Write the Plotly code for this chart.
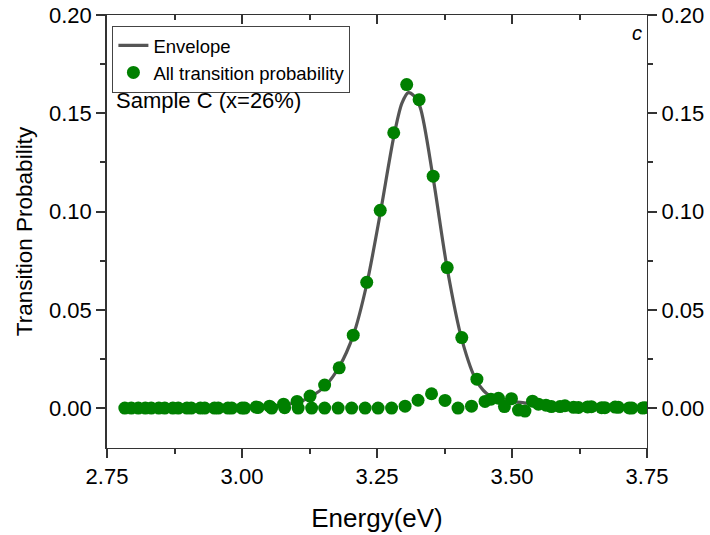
import plotly.graph_objects as go

# ---- data ----
# main transition series (forms the peak)
main_energy = [2.795, 2.821, 2.846, 2.872, 2.898, 2.923, 2.949, 2.974, 3.000, 3.026,
               3.051, 3.077, 3.102, 3.126, 3.153, 3.180, 3.206, 3.231, 3.256, 3.281,
               3.305, 3.328, 3.354, 3.380, 3.407, 3.435, 3.461, 3.486, 3.512, 3.538,
               3.563, 3.589, 3.614, 3.640, 3.666, 3.691, 3.717, 3.742]
main_prob = [0, 0, 0, 0, 0, 0, 0, 0, 0, 0.0005,
             0.001, 0.002, 0.0034, 0.0061, 0.0117, 0.0205, 0.0371, 0.064, 0.1006, 0.1401,
             0.1646, 0.1569, 0.118, 0.0715, 0.0359, 0.0147, 0.0045, 0.0008, -0.001, 0.0035,
             0.0015, 0.0008, 0.0004, 0.0006, 0.0002, 0.0005, 0.0001, 0]

# secondary transition series (near the baseline)
minor_energy = [2.783, 2.808, 2.832, 2.857, 2.882, 2.906, 2.931, 2.956, 2.981, 3.005,
                3.030, 3.055, 3.079, 3.104, 3.129, 3.153, 3.178, 3.203, 3.228, 3.252,
                3.277, 3.302, 3.326, 3.351, 3.376, 3.400, 3.425, 3.450, 3.475, 3.499,
                3.524, 3.549, 3.573, 3.598, 3.623, 3.647, 3.672, 3.697, 3.722, 3.746]
minor_prob = [0, 0, 0, 0, 0, 0, 0, 0, 0, 0,
              0.0003, 0, 0.0002, 0, 0, 0, 0, 0, 0, 0,
              0, 0.001, 0.004, 0.0073, 0.0039, 0, 0.001, 0.0034, 0.005, 0.0048,
              -0.0015, 0.002, 0.0008, 0.0012, 0.0003, 0.0007, 0.0002, 0.0004, 0, 0.0002]

# envelope curve points
env_energy = [2.78, 2.95, 3.02, 3.06, 3.09, 3.11, 3.13, 3.155, 3.18, 3.206, 3.231, 3.256,
              3.281, 3.296, 3.308, 3.318, 3.330, 3.354, 3.380, 3.407, 3.435, 3.46, 3.49,
              3.52, 3.56, 3.62, 3.75]
env_prob = [0, 0, 0.0005, 0.0012, 0.0022, 0.0035, 0.0062, 0.0115, 0.021, 0.037, 0.063, 0.099,
            0.138, 0.155, 0.1605, 0.159, 0.153, 0.117, 0.071, 0.035, 0.0135, 0.006, 0.0035,
            0.0028, 0.0015, 0.0005, 0]

# axes / tick labels
x_range = [2.75, 3.75]
y_range = [-0.0203, 0.2]
x_tickvals = [2.75, 3.00, 3.25, 3.50, 3.75]
x_ticktext = ["2.75", "3.00", "3.25", "3.50", "3.75"]
y_tickvals = [0.00, 0.05, 0.10, 0.15, 0.20]
y_ticktext = ["0.00", "0.05", "0.10", "0.15", "0.20"]

FONT = "Liberation Sans, Arial, sans-serif"
AXC = "#333333"

fig = go.Figure()
fig.add_trace(go.Scatter(
    x=env_energy, y=env_prob, mode="lines", name="Envelope",
    xaxis="x", yaxis="y",
    line=dict(color="#555555", width=3.2, shape="spline", smoothing=0.8),
))
fig.add_trace(go.Scatter(
    x=minor_energy + main_energy, y=minor_prob + main_prob, mode="markers",
    name="All transition probability", xaxis="x2", yaxis="y2",
    marker=dict(color="#008000", size=13, line=dict(width=0)),
))

fig.update_layout(
    width=710, height=535,
    margin=dict(l=107, r=63, t=15, b=87, autoexpand=False),
    paper_bgcolor="white", plot_bgcolor="white",
    font=dict(family=FONT, color="black"),
    showlegend=True,
    legend=dict(
        x=0.01, y=0.975, xanchor="left", yanchor="top",
        bgcolor="rgba(255,255,255,0)", bordercolor="#444444", borderwidth=1,
        font=dict(size=18.5, family=FONT), tracegroupgap=0,
    ),
    xaxis=dict(
        range=x_range, tickmode="array", tickvals=x_tickvals, ticktext=x_ticktext,
        side="bottom", anchor="y", showline=True, linecolor=AXC,
        ticks="outside", ticklen=9, tickwidth=2, tickcolor=AXC,
        minor=dict(ticks="outside", ticklen=5, tickwidth=1.5, tickcolor=AXC, dtick=0.125),
        tickfont=dict(size=22),
        title=dict(text="Energy(eV)", font=dict(size=26), standoff=20),
    ),
    xaxis2=dict(
        range=x_range, overlaying="x", side="top", anchor="y2",
        tick0=2.75, dtick=0.25, showline=True, linecolor=AXC,
        ticks="inside", ticklen=9, tickwidth=2, tickcolor=AXC, showticklabels=False,
        minor=dict(ticks="inside", ticklen=5, tickwidth=1.5, tickcolor=AXC, dtick=0.125),
    ),
    yaxis=dict(
        range=y_range, tickmode="array", tickvals=y_tickvals, ticktext=y_ticktext,
        side="left", anchor="x", showline=True, linecolor=AXC, linewidth=1.5,
        ticks="outside", ticklen=9, tickwidth=2, tickcolor=AXC,
        minor=dict(ticks="outside", ticklen=5, tickwidth=1.5, tickcolor=AXC, dtick=0.025),
        tickfont=dict(size=22),
        title=dict(text="Transition Probability", font=dict(size=22.5), standoff=10),
    ),
    yaxis2=dict(
        range=y_range, overlaying="y", side="right", anchor="x2",
        tickmode="array", tickvals=y_tickvals, ticktext=y_ticktext,
        showline=True, linecolor=AXC,
        ticks="outside", ticklen=9, tickwidth=2, tickcolor=AXC,
        minor=dict(ticks="outside", ticklen=5, tickwidth=1.5, tickcolor=AXC, dtick=0.025),
        tickfont=dict(size=22),
    ),
    annotations=[
        dict(text="Sample C (x=26%)", xref="paper", yref="paper", x=0.013, y=0.802,
             xanchor="left", yanchor="middle", showarrow=False, font=dict(size=22)),
        dict(text="<i>c</i>", xref="paper", yref="paper", x=0.981, y=0.958,
             xanchor="center", yanchor="middle", showarrow=False, font=dict(size=20)),
    ],
)

fig.write_html("out.html")
